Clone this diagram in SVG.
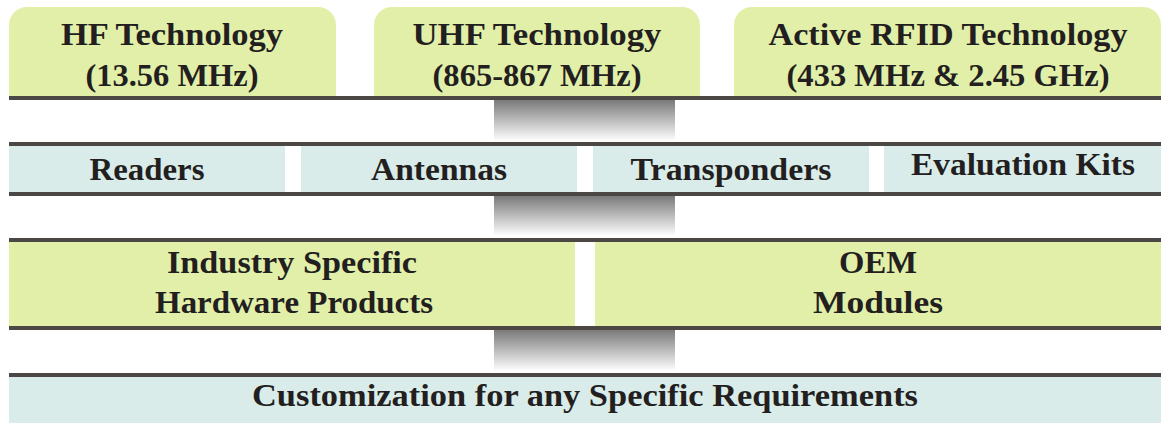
<svg xmlns="http://www.w3.org/2000/svg" width="1166" height="423" viewBox="0 0 1166 423">
  <defs>
    <linearGradient id="fade" x1="0" y1="0" x2="0" y2="1">
      <stop offset="0" stop-color="#7a7a7a"/>
      <stop offset="1" stop-color="#ffffff"/>
    </linearGradient>
  </defs>
  <style>
    .g { fill: #e2efa9; }
    .b { fill: #d9ecea; }
    .bar { fill: #4b4745; }
    .conn { fill: url(#fade); }
    text { font-family: "Liberation Serif", "Times New Roman", serif; font-weight: bold; font-size: 31px; fill: #231f20; text-anchor: middle; }
  </style>
  <rect width="1166" height="423" fill="#ffffff"/>

  <g id="connectors">
    <rect class="conn" x="494" y="100" width="181" height="41"/>
    <rect class="conn" x="494" y="196" width="181" height="40"/>
    <rect class="conn" x="494" y="330" width="181" height="41"/>
  </g>

  <g id="hf">
    <path class="g" d="M9,96 V25 A18,18 0 0 1 27,7 H318 A18,18 0 0 1 336,25 V96 Z"/>
    <text x="172" y="45" textLength="222" lengthAdjust="spacingAndGlyphs">HF Technology</text>
    <text x="172" y="86" textLength="173" lengthAdjust="spacingAndGlyphs">(13.56 MHz)</text>
  </g>
  <g id="uhf">
    <path class="g" d="M374,96 V25 A18,18 0 0 1 392,7 H682 A18,18 0 0 1 700,25 V96 Z"/>
    <text x="537" y="45" textLength="249" lengthAdjust="spacingAndGlyphs">UHF Technology</text>
    <text x="537" y="86" textLength="209" lengthAdjust="spacingAndGlyphs">(865-867 MHz)</text>
  </g>
  <g id="active">
    <path class="g" d="M734,96 V25 A18,18 0 0 1 752,7 H1143 A18,18 0 0 1 1161,25 V96 Z"/>
    <text x="948" y="45" textLength="359" lengthAdjust="spacingAndGlyphs">Active RFID Technology</text>
    <text x="948" y="86" textLength="323" lengthAdjust="spacingAndGlyphs">(433 MHz &amp; 2.45 GHz)</text>
  </g>

  <g id="readers">
    <rect class="b" x="9" y="146" width="276" height="46"/>
    <text x="147" y="180" textLength="115" lengthAdjust="spacingAndGlyphs">Readers</text>
  </g>
  <g id="antennas">
    <rect class="b" x="301" y="146" width="276" height="46"/>
    <text x="439" y="180" textLength="136" lengthAdjust="spacingAndGlyphs">Antennas</text>
  </g>
  <g id="transponders">
    <rect class="b" x="593" y="146" width="276" height="46"/>
    <text x="731" y="180" textLength="201" lengthAdjust="spacingAndGlyphs">Transponders</text>
  </g>
  <g id="kits">
    <rect class="b" x="884" y="146" width="277" height="46"/>
    <text x="1023" y="175" textLength="224" lengthAdjust="spacingAndGlyphs">Evaluation Kits</text>
  </g>

  <g id="industry">
    <rect class="g" x="9" y="242" width="566" height="88"/>
    <text x="292" y="273" textLength="250" lengthAdjust="spacingAndGlyphs">Industry Specific</text>
    <text x="294" y="313" textLength="278" lengthAdjust="spacingAndGlyphs">Hardware Products</text>
  </g>
  <g id="oem">
    <rect class="g" x="595" y="242" width="566" height="88"/>
    <text x="878" y="273" textLength="78" lengthAdjust="spacingAndGlyphs">OEM</text>
    <text x="878" y="313" textLength="130" lengthAdjust="spacingAndGlyphs">Modules</text>
  </g>

  <g id="custom">
    <rect class="b" x="9" y="377" width="1152" height="46"/>
    <text x="585" y="406" textLength="666" lengthAdjust="spacingAndGlyphs">Customization for any Specific Requirements</text>
  </g>

  <g id="rules">
    <rect class="bar" x="9" y="96" width="1152" height="4"/>
    <rect class="bar" x="9" y="142" width="1152" height="4"/>
    <rect class="bar" x="9" y="192" width="1152" height="4"/>
    <rect class="bar" x="9" y="238" width="1152" height="4"/>
    <rect class="bar" x="9" y="326" width="1152" height="4"/>
    <rect class="bar" x="9" y="373" width="1152" height="4"/>
  </g>
</svg>
